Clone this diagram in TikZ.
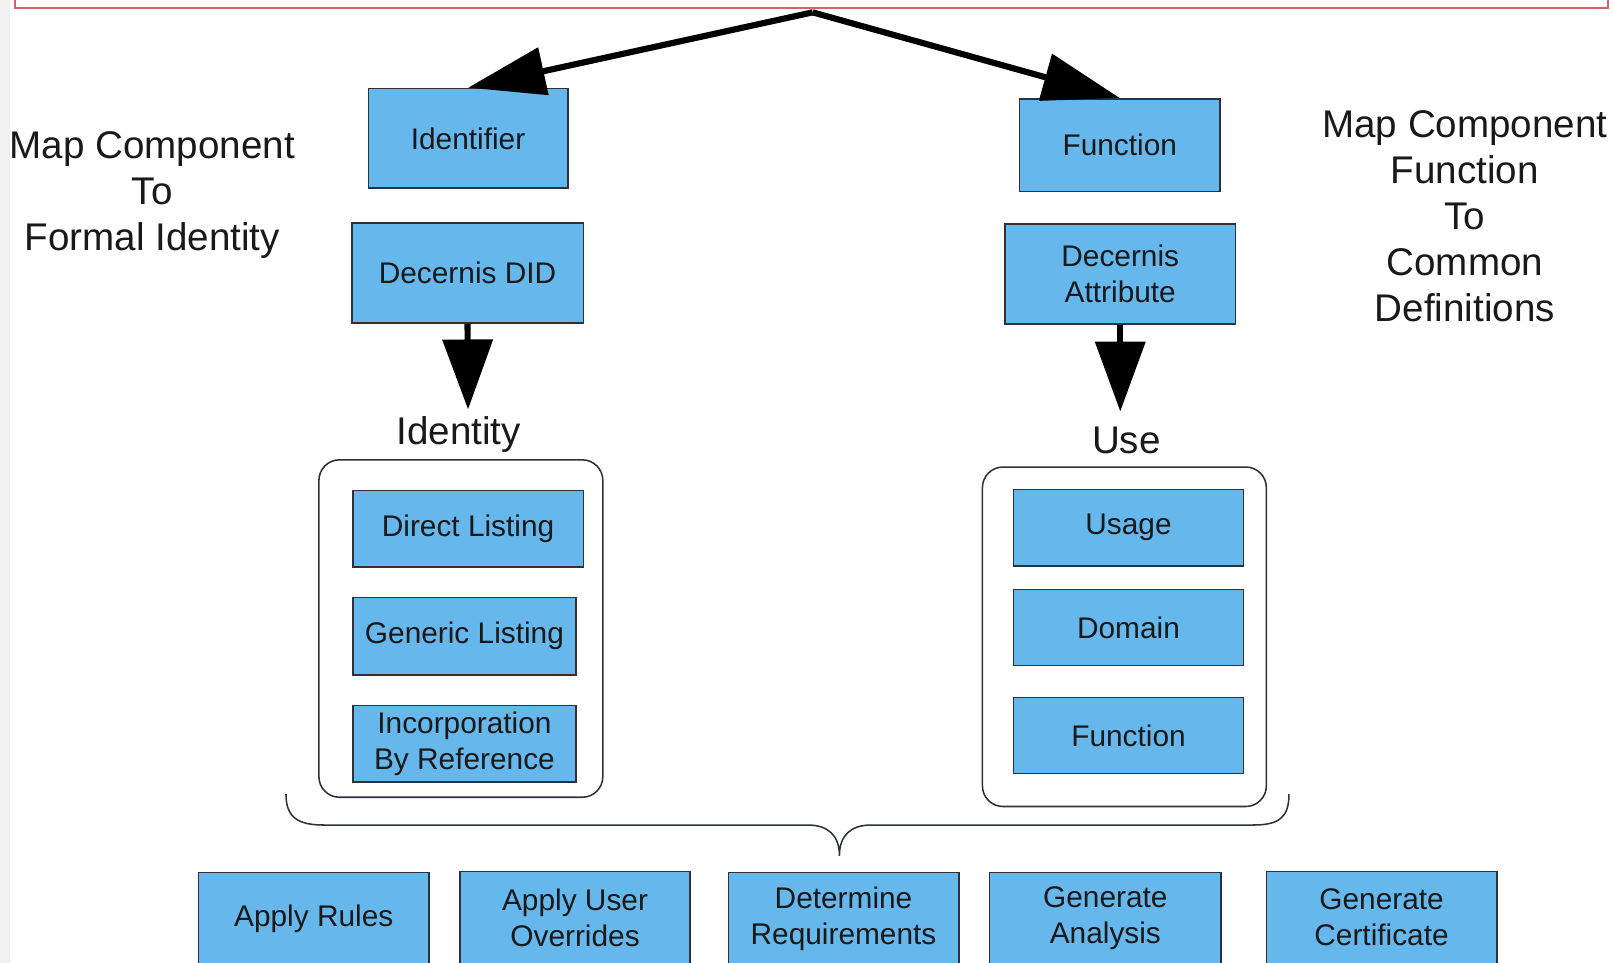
\documentclass[tikz,border=0pt]{standalone}
\usepackage{fontspec}
\setmainfont{Liberation Sans}
\usetikzlibrary{arrows.meta}
\definecolor{boxblue}{RGB}{102,183,236}
\definecolor{boxline}{RGB}{45,50,58}
\definecolor{txt}{RGB}{25,25,25}
\definecolor{redline}{RGB}{215,100,100}
\definecolor{leftgray}{RGB}{240,240,240}
\tikzset{
  bx/.style={draw=boxline, fill=boxblue, line width=1.5pt, inner sep=0pt,
    align=center, text=txt, font=\fontsize{29}{35}\selectfont},
  container/.style={draw=boxline, line width=1.5pt, rounded corners=20pt, inner sep=0pt},
  lab/.style={text=txt, inner sep=0pt, align=center, font=\fontsize{37.5}{44.7}\selectfont},
  toparrow/.style={line width=6pt, -{Triangle[length=75pt,width=46pt]}},
  downarrow/.style={line width=6pt, -{Triangle[length=68pt,width=48pt]}},
  bracestyle/.style={draw=boxline, line width=1.5pt},
}
\begin{document}
\begin{tikzpicture}[x=1pt,y=-1pt]
\useasboundingbox (0,0) rectangle (1568,936);
\begin{scope}
\clip (0,0) rectangle (1568,936);
\fill[white] (0,0) rectangle (1568,936);
\fill[leftgray] (0,0) rectangle (10,936);
\draw[redline, line width=2pt] (15,-5) -- (15,7.5) -- (1563,7.5) -- (1563,-5);

% side labels
\node[lab] (leftlab) at (148,190) {Map Component\\To\\Formal Identity};
\node[lab] (rightlab) at (1424,210) {Map Component\\Function\\To\\Common\\Definitions};

% top boxes
\node[bx, minimum width=194pt, minimum height=97pt] (ident) at (455,134.5) {Identifier};
\node[bx, minimum width=195pt, minimum height=90pt] (func) at (1088.5,141) {Function};
\node[bx, minimum width=225pt, minimum height=97pt] (did) at (454.5,265.5) {Decernis DID};
\node[bx, minimum width=224pt, minimum height=97pt] (attr) at (1089,266.5) {Decernis\\Attribute};

% labels
\node[lab] (identlab) at (446,422) {Identity};
\node[lab] (uselab) at (1095,428) {Use};

% containers
\node[container, minimum width=276pt, minimum height=328pt] (lc) at (448,611) {};
\node[container, minimum width=276pt, minimum height=330pt] (rc) at (1093,619) {};

\node[bx, minimum width=224pt, minimum height=74pt] (dl) at (455,514) {Direct Listing};
\node[bx, minimum width=217pt, minimum height=75pt] (gl) at (451.5,618.5) {Generic Listing};
\node[bx, minimum width=217pt, minimum height=74pt] (ibr) at (451.5,723) {Incorporation\\By Reference};

\node[bx, minimum width=224pt, minimum height=74pt] (usage) at (1097,513) {Usage};
\node[bx, minimum width=224pt, minimum height=74pt] (domain) at (1097,610) {Domain};
\node[bx, minimum width=224pt, minimum height=74pt] (func2) at (1097,715) {Function};

% brace
\draw[bracestyle] (278,772) .. controls (278,795) and (290,802) .. (315,802)
  -- (785,802) .. controls (805,802) and (816,812) .. (816,832)
  .. controls (816,812) and (827,802) .. (847,802)
  -- (1218,802) .. controls (1243,802) and (1253,795) .. (1253,772);

% bottom boxes
\node[bx, minimum width=224pt, minimum height=90pt] (rules) at (305,893) {Apply Rules};
\node[bx, minimum width=224pt, minimum height=90pt] (overrides) at (559,892) {Apply User\\Overrides};
\node[bx, minimum width=224pt, minimum height=90pt] (reqs) at (820,893) {Determine\\Requirements};
\node[bx, minimum width=225pt, minimum height=90pt] (analysis) at (1074.5,893) {Generate\\Analysis};
\node[bx, minimum width=224pt, minimum height=90pt] (cert) at (1343,892) {Generate\\Certificate};

% arrows
\coordinate (top) at (790,12);
\draw[toparrow] (top) -- (ident.north);
\draw[toparrow] (top) -- (func.north);
\coordinate (tipL) at (455,398);
\coordinate (tipR) at (1089,400);
\draw[downarrow] (did.south) -- (tipL);
\draw[downarrow] (attr.south) -- (tipR);
\end{scope}
\end{tikzpicture}
\end{document}
